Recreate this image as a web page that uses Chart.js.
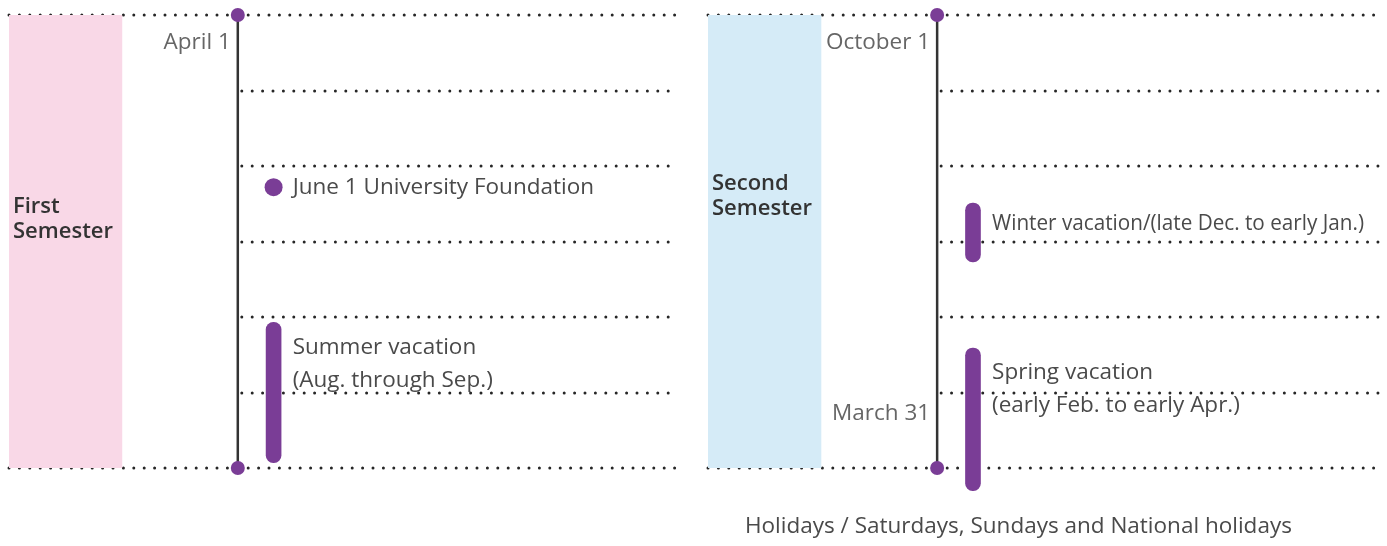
<!DOCTYPE html>
<html>
<head>
<meta charset="utf-8">
<script src="https://cdn.jsdelivr.net/npm/chart.js@4"></script>
<style>
html, body { margin: 0; padding: 0; background: #fff; }
#marco { position: relative; width: 1387px; height: 546px; }
#marco > div { position: absolute; top: 0; height: 546px; }
</style>
</head>
<body>
<div id="marco">
  <div style="left:0;width:693px"><canvas id="primero"></canvas></div>
  <div style="left:693px;width:694px"><canvas id="segundo"></canvas></div>
</div>
<script>
// datos del calendario (meses desde el inicio del semestre)
const semestres = [['First', 'Semester'], ['Second', 'Semester']];
const meses_primero = ['April', 'May', 'June', 'July', 'August', 'September'];
const meses_segundo = ['October', 'November', 'December', 'January', 'February', 'March'];
const etiquetas_inicio = ['April 1', 'October 1'];
const etiquetas_fin = ['', 'March 31'];
const vacaciones_primero = [[4.07, 5.93]];
const vacaciones_segundo = [[2.49, 3.27], [4.41, 6.30]];
const textos_primero = [['Summer vacation', '(Aug. through Sep.)']];
const textos_segundo = [['Winter vacation/(late Dec. to early Jan.)'], ['Spring vacation', '(early Feb. to early Apr.)']];
const fundacion = [2.28];
const texto_fundacion = 'June 1 University Foundation';
const nota = 'Holidays / Saturdays, Sundays and National holidays';

const morado = '#7a3d96';
const fuente = '"Open Sans", sans-serif';
// posiciones horizontales (0-100 dentro del area)
const x_banda = 8.43, x_linea = 34.2, x_barra = 39.55, x_texto = 42.4;

const calendario = {
    id: 'calendario',
    beforeDatasetsDraw(chart, args, op) {
        const {ctx, chartArea, scales: {x, y}} = chart;
        ctx.save();
        ctx.strokeStyle = '#262626';
        ctx.lineWidth = 3;
        ctx.lineCap = 'round';
        ctx.setLineDash([0, 10.4]);
        for (let v = 0; v <= op.meses.length; v++) {
            const py = Math.round(y.getPixelForValue(v));
            const borde = v === 0 || v === op.meses.length;
            const x0 = borde ? chartArea.left : x.getPixelForValue(x_linea) + 4;
            ctx.beginPath();
            ctx.moveTo(x0, py);
            ctx.lineTo(chartArea.right, py);
            ctx.stroke();
        }
        ctx.restore();
    },
    afterDatasetsDraw(chart, args, op) {
        const {ctx, chartArea, scales: {x, y}} = chart;
        ctx.save();
        ctx.textBaseline = 'middle';
        // semestre
        ctx.fillStyle = '#333';
        ctx.font = '600 22px ' + fuente;
        op.semestre.forEach((t, i) => {
            ctx.fillText(t, x.getPixelForValue(0) + 4, y.getPixelForValue(op.y_semestre) + (i - 0.5) * 25);
        });
        // inicio / fin
        ctx.fillStyle = '#666';
        ctx.font = '22.5px ' + fuente;
        ctx.textAlign = 'right';
        const xl = x.getPixelForValue(x_linea) - 7;
        ctx.fillText(op.inicio, xl, y.getPixelForValue(0.36));
        if (op.fin) ctx.fillText(op.fin, xl, y.getPixelForValue(5.28));
        // vacaciones
        ctx.textAlign = 'left';
        ctx.fillStyle = '#4a4a4a';
        ctx.font = '22.5px ' + fuente;
        const xt = x.getPixelForValue(x_texto);
        const ancho = chartArea.right - xt - 14;
        op.vacaciones.forEach((v, i) => {
            const sep = op.textos[i].length > 1 ? 0 : -4;
            op.textos[i].forEach((t, j) => {
                ctx.fillText(t, xt, y.getPixelForValue(v[0]) + 25 + sep + j * 33, ancho);
            });
        });
        if (op.fundacion) {
            op.fundacion.forEach(f => ctx.fillText(texto_fundacion, xt, y.getPixelForValue(f)));
        }
        if (op.nota) {
            ctx.fillText(op.nota, x.getPixelForValue(5.52), y.getPixelForValue(6.78));
        }
        ctx.restore();
    }
};

const crear_calendario = (id, n, meses, vacaciones, color, padding, extra) => {
    const elemento = document.getElementById(id).getContext('2d');
    const datasets = [
        {
            type: 'line',
            data: [{x: x_linea, y: 0}, {x: x_linea, y: meses.length}],
            borderColor: '#333',
            borderWidth: 2.5,
            pointRadius: 7,
            pointBackgroundColor: morado,
            pointBorderWidth: 0,
            clip: false,
            order: 1
        },
        {
            data: vacaciones.map(v => ({x: x_barra, y: v})),
            backgroundColor: morado,
            barThickness: 15,
            borderRadius: 7.5,
            borderSkipped: false,
            grouped: false,
            clip: false,
            order: 2
        },
        {
            data: [{x: x_banda, y: [0, meses.length]}],
            backgroundColor: color,
            barThickness: 113,
            grouped: false,
            order: 3
        }
    ];
    if (extra.fundacion) {
        datasets.push({
            type: 'line',
            showLine: false,
            data: extra.fundacion.map(f => ({x: x_barra, y: f})),
            pointRadius: 9,
            pointBackgroundColor: morado,
            pointBorderWidth: 0,
            order: 0
        });
    }
    const myChart = new Chart(elemento, {
        type: 'bar',
        data: {datasets},
        options: {
            responsive: true,
            maintainAspectRatio: false,
            animation: false,
            events: [],
            layout: {padding: padding},
            scales: {
                x: {type: 'linear', min: 0, max: 100, offset: false, display: false},
                y: {type: 'linear', min: 0, max: meses.length, reverse: true, display: false,
                    ticks: {stepSize: 1}}
            },
            plugins: {
                legend: {display: false},
                tooltip: {enabled: false},
                calendario: Object.assign({
                    meses: meses,
                    semestre: semestres[n],
                    inicio: etiquetas_inicio[n],
                    fin: etiquetas_fin[n],
                    vacaciones: vacaciones
                }, extra)
            }
        },
        plugins: [calendario]
    });
};

crear_calendario('primero', 0, meses_primero, vacaciones_primero, '#f9d8e7',
    {left: 8, right: 15, top: 15, bottom: 78},
    {textos: textos_primero, fundacion: fundacion, y_semestre: 2.71});
crear_calendario('segundo', 1, meses_segundo, vacaciones_segundo, '#d5ebf7',
    {left: 15, right: 9, top: 15, bottom: 78},
    {textos: textos_segundo, y_semestre: 2.40, nota: nota});
</script>
</body>
</html>
